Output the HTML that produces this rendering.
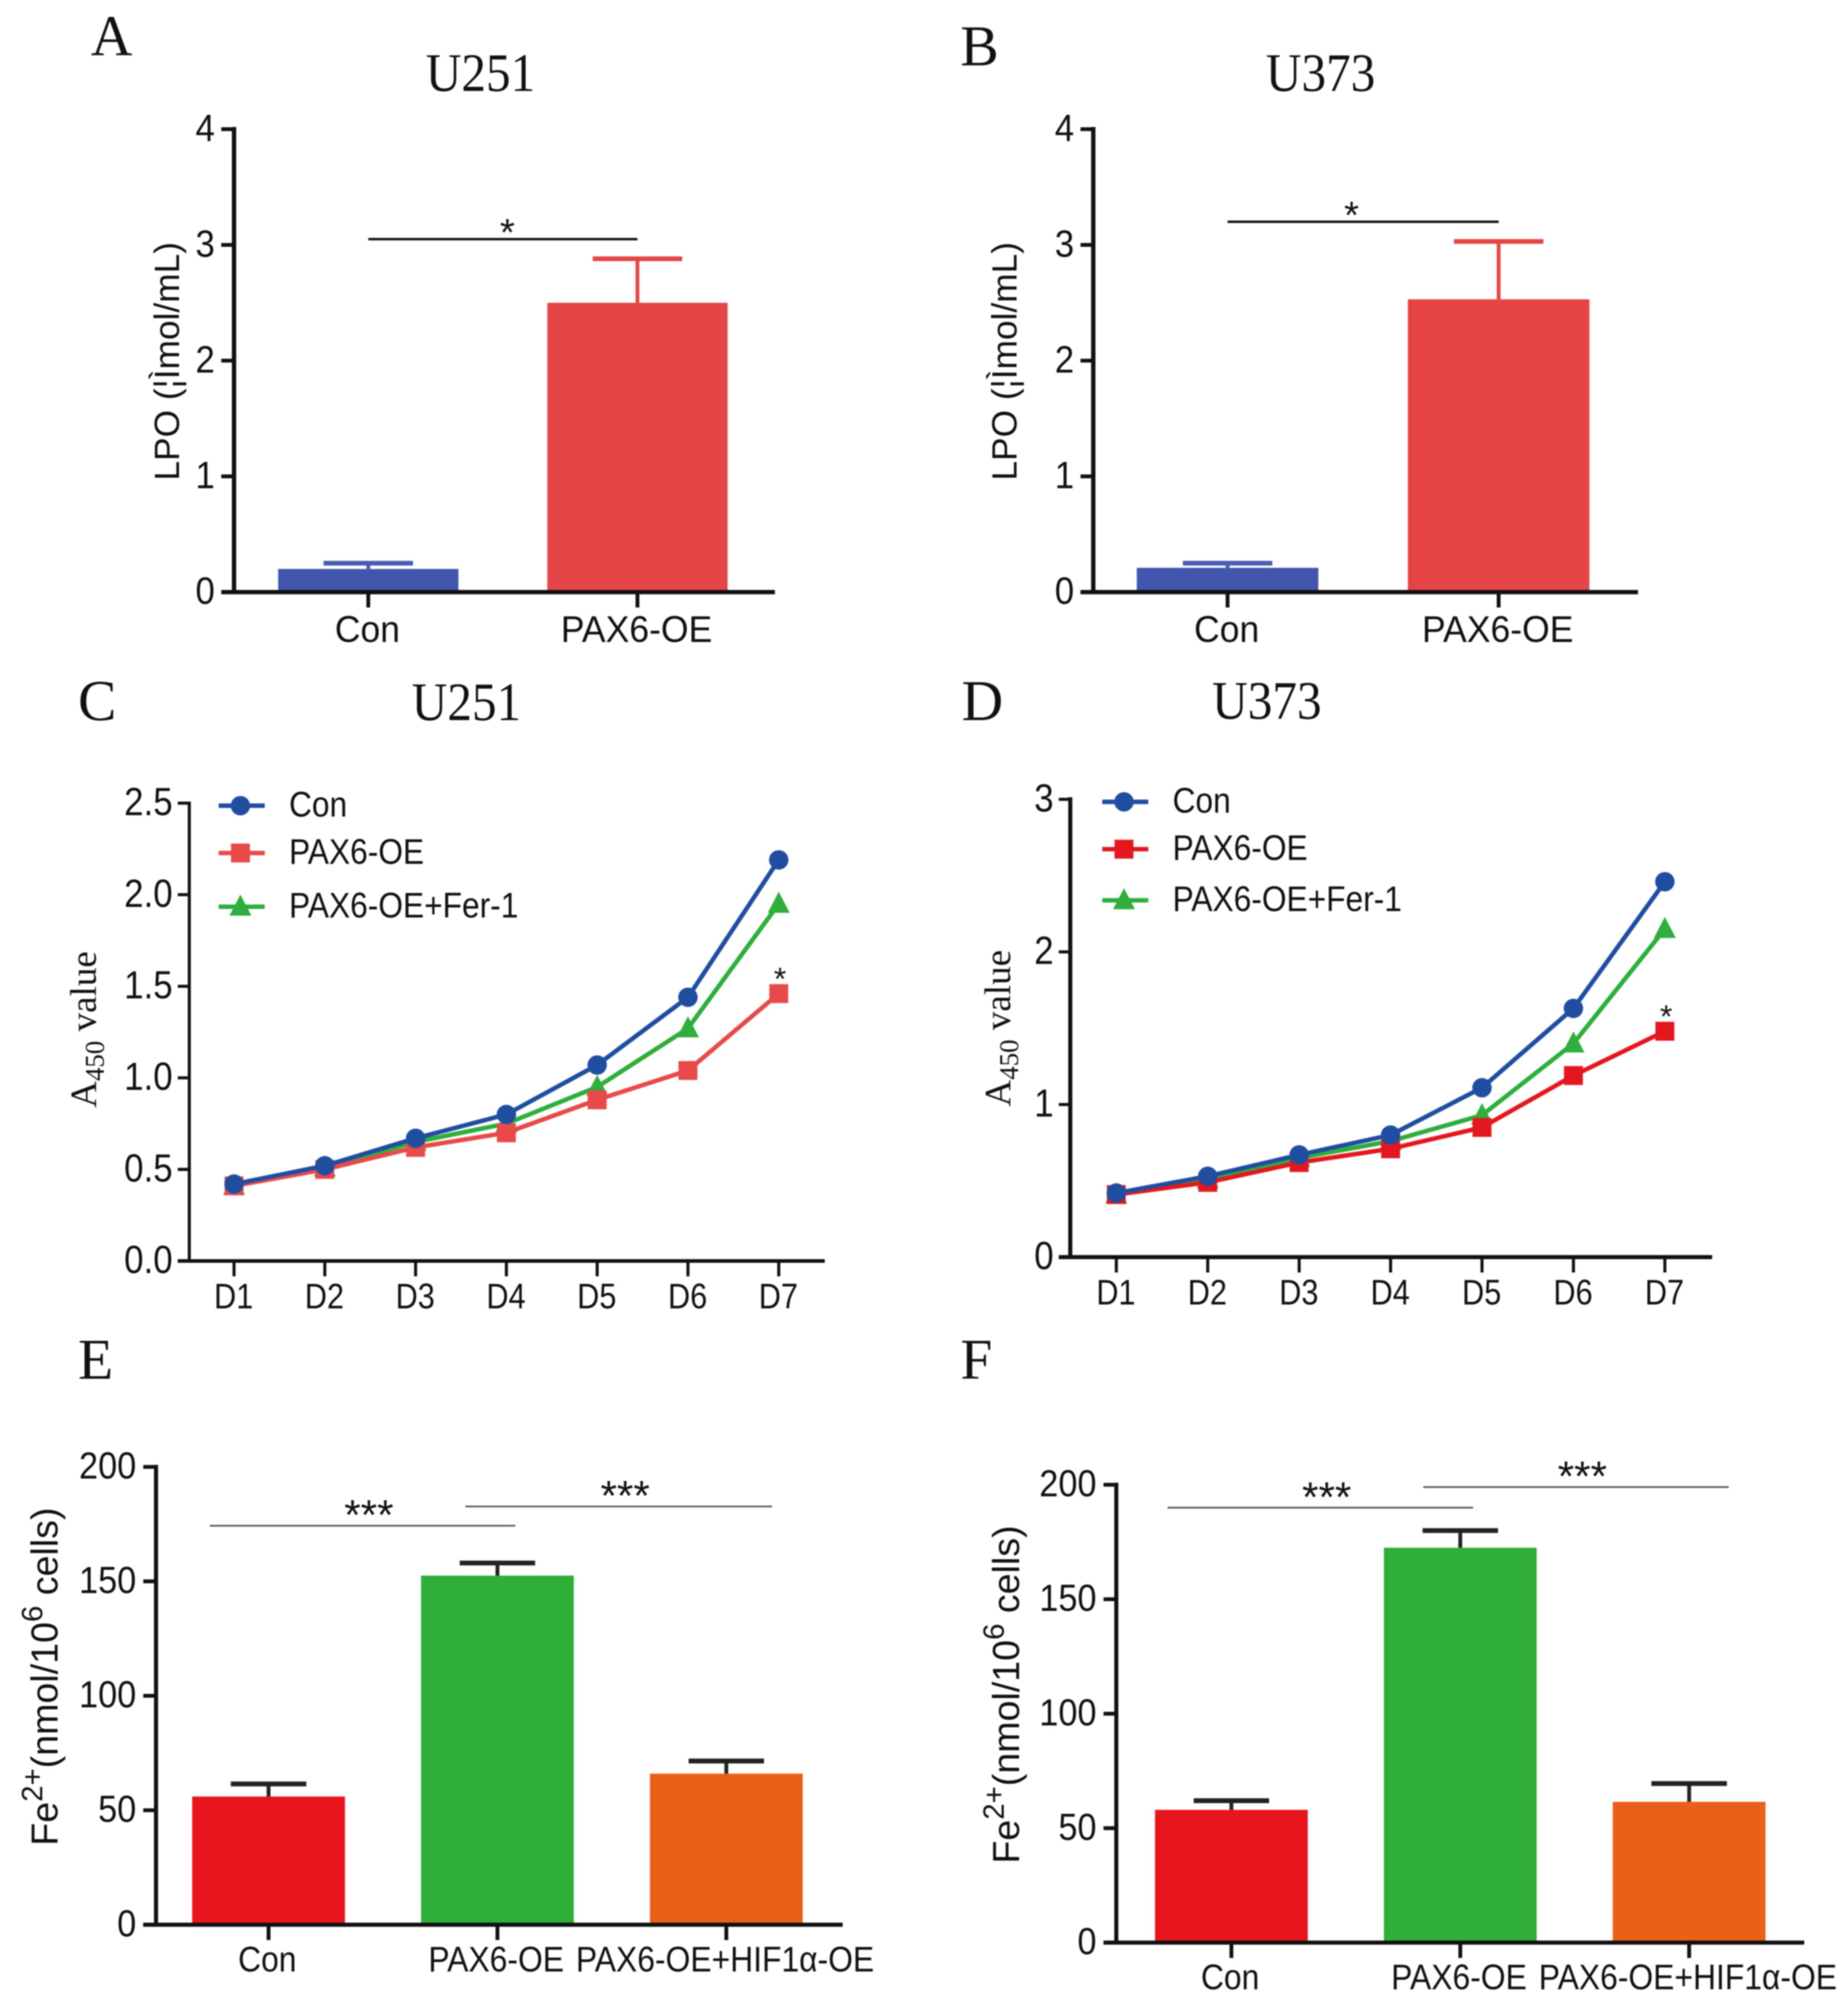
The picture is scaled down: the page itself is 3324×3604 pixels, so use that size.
<!DOCTYPE html>
<html>
<head>
<meta charset="utf-8">
<title>LPO, proliferation and Fe2+ panels</title>
<style>
html,body{margin:0;padding:0;background:#fff;}
svg{display:block;filter:blur(1px);}
text{fill:#111;font-family:"Liberation Sans",Arial,sans-serif;}
.serif{font-family:"Liberation Serif","Times New Roman",serif;}
</style>
</head>
<body>
<svg id="figure" xmlns="http://www.w3.org/2000/svg" width="3324" height="3604" viewBox="0 0 1445.2 1567">
  <rect width="1445.2" height="1567" fill="#fff"/>
  <text class="serif" x="71" y="43" font-size="45">A</text>
  <text class="serif" x="751" y="51" font-size="45">B</text>
  <text class="serif" x="61" y="563" font-size="45">C</text>
  <text class="serif" x="752" y="563" font-size="45">D</text>
  <text class="serif" x="61" y="1078" font-size="45">E</text>
  <text class="serif" x="751" y="1078" font-size="45">F</text>

  <text class="serif" transform="translate(333,71) scale(1,1.1)" font-size="38.5">U251</text>
  <text class="serif" transform="translate(990,71) scale(1,1.1)" font-size="38.5">U373</text>
  <text class="serif" transform="translate(322,563) scale(1,1.1)" font-size="38.5">U251</text>
  <text class="serif" transform="translate(948,562) scale(1,1.1)" font-size="38.5">U373</text>

  <text transform="translate(140,282.5) rotate(-90)" text-anchor="middle" font-size="27.6">LPO (¦Ìmol/mL)</text>
  <text transform="translate(795,282.5) rotate(-90)" text-anchor="middle" font-size="27.6">LPO (¦Ìmol/mL)</text>
  <text class="serif" transform="translate(75,805) rotate(-90)" text-anchor="middle" font-size="29">A<tspan font-size="21" dy="6">450</tspan><tspan dy="-6"> value</tspan></text>
  <text class="serif" transform="translate(790,804) rotate(-90)" text-anchor="middle" font-size="29">A<tspan font-size="21" dy="6">450</tspan><tspan dy="-6"> value</tspan></text>
  <text transform="translate(45,1311) rotate(-90)" text-anchor="middle" font-size="29.4">Fe<tspan font-size="23" dy="-12">2+</tspan><tspan dy="12">(nmol/10</tspan><tspan font-size="23" dy="-12">6</tspan><tspan dy="12"> cells)</tspan></text>
  <text transform="translate(797,1325) rotate(-90)" text-anchor="middle" font-size="29.4">Fe<tspan font-size="23" dy="-12">2+</tspan><tspan dy="12">(nmol/10</tspan><tspan font-size="23" dy="-12">6</tspan><tspan dy="12"> cells)</tspan></text>
</svg>

<script>
// ---- Panel A data ----
const aCategories = ['Con', 'PAX6-OE'];
const aMeans = [0.2, 2.5];
const aErrorTops = [0.25, 2.88];
const aTicks = [0, 1, 2, 3, 4];
const aTickLabels = ['0', '1', '2', '3', '4'];
const aBrackets = [[0, 1, 3.05, '*']];

// ---- Panel B data ----
const bCategories = ['Con', 'PAX6-OE'];
const bMeans = [0.21, 2.53];
const bErrorTops = [0.25, 3.03];
const bTicks = [0, 1, 2, 3, 4];
const bTickLabels = ['0', '1', '2', '3', '4'];
const bBrackets = [[0, 1, 3.2, '*']];

// ---- Panel C data ----
const cDays = ['D1', 'D2', 'D3', 'D4', 'D5', 'D6', 'D7'];
const cCon = [0.42, 0.52, 0.67, 0.80, 1.07, 1.44, 2.19];
const cPax = [0.41, 0.50, 0.62, 0.70, 0.88, 1.04, 1.46];
const cFer = [0.41, 0.51, 0.65, 0.75, 0.95, 1.27, 1.95];
const cTicks = [0, 0.5, 1, 1.5, 2, 2.5];
const cTickLabels = ['0.0', '0.5', '1.0', '1.5', '2.0', '2.5'];

// ---- Panel D data ----
const dDays = ['D1', 'D2', 'D3', 'D4', 'D5', 'D6', 'D7'];
const dCon = [0.42, 0.53, 0.67, 0.80, 1.11, 1.63, 2.46];
const dPax = [0.41, 0.49, 0.62, 0.71, 0.85, 1.19, 1.48];
const dFer = [0.41, 0.51, 0.65, 0.76, 0.93, 1.40, 2.15];
const dTicks = [0, 1, 2, 3];
const dTickLabels = ['0', '1', '2', '3'];

// ---- Panel E data ----
const eCategories = ['Con', 'PAX6-OE', 'PAX6-OE+HIF1α-OE'];
const eMeans = [56, 152.5, 66];
const eErrorTops = [61.5, 158, 71.5];
const eTicks = [0, 50, 100, 150, 200];
const eTickLabels = ['0', '50', '100', '150', '200'];
const eBrackets = [[-0.257, 1.078, 174.3, '***'], [0.86, 2.2, 182.7, '***']];

// ---- Panel F data ----
const fCategories = ['Con', 'PAX6-OE', 'PAX6-OE+HIF1α-OE'];
const fMeans = [58, 172.5, 61.5];
const fErrorTops = [62, 180, 69.5];
const fTicks = [0, 50, 100, 150, 200];
const fTickLabels = ['0', '50', '100', '150', '200'];
const fBrackets = [[-0.279, 1.056, 190, '***'], [0.838, 2.173, 199, '***']];

const seriesNames = ['Con', 'PAX6-OE', 'PAX6-OE+Fer-1'];

const SVG_NS = 'http://www.w3.org/2000/svg';
const root = document.getElementById('figure');

function make(tag, attrs, parent) {
  const el = document.createElementNS(SVG_NS, tag);
  for (const k in attrs) el.setAttribute(k, attrs[k]);
  parent.appendChild(el);
  return el;
}
function line(parent, x1, y1, x2, y2, stroke, w) {
  return make('line', {x1: x1, y1: y1, x2: x2, y2: y2, stroke: stroke, 'stroke-width': w}, parent);
}
function label(parent, x, y, str, size, anchor, stretch) {
  const el = make('text', {transform: 'translate(' + x + ',' + y + ') scale(1,' + stretch + ')', 'text-anchor': anchor, 'font-size': size}, parent);
  el.textContent = str;
  return el;
}

function drawAxes(g, L, ticks, tickLabels, cats, yOf, xOf) {
  const yAxis = line(g, L.axisX, yOf(ticks[ticks.length - 1]) - L.axisW / 2, L.axisX, L.y0, '#111', L.axisW);
  
  
  const xAxis = line(g, L.axisX - L.tickLen, L.y0, L.xEnd, L.y0, '#111', L.xAxisW);
  
  
  ticks.forEach(function (t, i) {
    const tk = line(g, L.axisX - L.tickLen, yOf(t), L.axisX, yOf(t), '#111', L.tickW);
    
    
    const tl = label(g, L.axisX - L.tickLen - L.tickGap, yOf(t) + L.tickFont * 0.31 * L.tickStretch, tickLabels[i], L.tickFont, 'end', L.tickStretch);
    
    
  });
  cats.forEach(function (c, i) {
    const tk = line(g, xOf(i), L.y0, xOf(i), L.y0 + 12, '#111', L.tickW);
    
    
    const tl = label(g, xOf(i) + L.labelDx, L.y0 + L.labelDy, c, L.labelFont, 'middle', L.labelStretch);
    
    
  });
}

function drawBarPanel(name, L, cats, means, tops, ticks, tickLabels, brackets) {
  const g = make('g', {}, root);
  
  
  const yOf = function (v) { return L.y0 - (v - ticks[0]) / (ticks[ticks.length - 1] - ticks[0]) * (L.y0 - L.yTop); };
  const xOf = function (i) { return L.x0 + i * L.step; };

  means.forEach(function (m, i) {
    const bar = make('rect', {x: xOf(i) - L.barW / 2, y: yOf(m), width: L.barW, height: L.y0 - yOf(m), fill: L.colors[i]}, g);
    
    
    const ec = L.errColors[i];
    const stem = line(g, xOf(i), yOf(tops[i]), xOf(i), yOf(m), ec, L.stemW);
    
    
    const cap = line(g, xOf(i) - L.capHalf, yOf(tops[i]), xOf(i) + L.capHalf, yOf(tops[i]), ec, L.capW);
    
    
  });

  brackets.forEach(function (b) {
    const y = yOf(b[2]);
    const br = line(g, xOf(b[0]), y, xOf(b[1]), y, L.bracketColor, L.bracketW);
    
    
    const st = label(g, (xOf(b[0]) + xOf(b[1])) / 2 + L.starDx, y + L.starDy, b[3], L.starFont, 'middle', 1);
    
    
  });

  drawAxes(g, L, ticks, tickLabels, cats, yOf, xOf);
}

function marker(g, kind, x, y, color) {
  if (kind === 'circle') {
    return make('circle', {cx: x, cy: y, r: 7.6, fill: color}, g);
  }
  if (kind === 'square') {
    return make('rect', {x: x - 7.4, y: y - 7.4, width: 14.8, height: 14.8, fill: color}, g);
  }
  return make('path', {d: 'M' + x + ' ' + (y - 9.5) + 'L' + (x + 8.6) + ' ' + (y + 7) + 'L' + (x - 8.6) + ' ' + (y + 7) + 'Z', fill: color}, g);
}

function drawLinePanel(name, L, days, series, ticks, tickLabels) {
  const g = make('g', {}, root);
  
  
  const yOf = function (v) { return L.y0 - (v - ticks[0]) / (ticks[ticks.length - 1] - ticks[0]) * (L.y0 - L.yTop); };
  const xOf = function (i) { return L.x0 + i * L.step; };
  drawAxes(g, L, ticks, tickLabels, days, yOf, xOf);

  const kinds = ['circle', 'square', 'triangle'];
  const order = [2, 1, 0];
  order.forEach(function (s) {
    const pts = series[s].map(function (v, i) { return xOf(i) + ',' + yOf(v); }).join(' ');
    const pl = make('polyline', {points: pts, fill: 'none', stroke: L.colors[s], 'stroke-width': 3.5, 'stroke-linejoin': 'round'}, g);
    
    
    series[s].forEach(function (v, i) {
      const m = marker(g, kinds[s], xOf(i), yOf(v), L.colors[s]);
      
      
    });
  });

  const last = series[1].length - 1;
  const st = label(g, xOf(last) + 1, yOf(series[1][last]) - 3, '*', 25, 'middle', 1);
  
  

  seriesNames.forEach(function (nm, s) {
    const ly = L.legendY[s];
    const ll = line(g, L.legendX, ly, L.legendX + 36, ly, L.colors[s], 3.5);
    
    
    const lm = marker(g, kinds[s], L.legendX + 17, ly, L.colors[s]);
    
    
    const lt = label(g, L.legendX + 55, ly + 8.5, nm, 24.8, 'start', 1.12);
    
    
  });
}

const barStyleTop = {
  yTop: 101, y0: 463, step: 210.5, barW: 141, capHalf: 35, axisW: 3.4, xAxisW: 3.4, tickW: 3, tickLen: 10,
  tickGap: 5, tickFont: 27.2, tickStretch: 1.1, labelFont: 27.8, labelStretch: 1.05, labelDy: 39, labelDx: -0.7,
  stemW: 3, capW: 3.7, bracketColor: '#111', bracketW: 1.9, starFont: 30, starDy: 5,
  colors: ['#4356ad', '#e64545'], errColors: ['#4a5db0', '#e64545']
};
const barStyleBottom = {
  step: 179, barW: 119.5, capHalf: 29.5, axisW: 3.2, xAxisW: 3.2, tickW: 3, tickLen: 10,
  tickGap: 5.5, tickFont: 26.8, tickStretch: 1.1, labelFont: 24.9, labelStretch: 1.12, labelDy: 36.5, labelDx: -1,
  stemW: 3, capW: 3.8, bracketColor: '#555', bracketW: 1.3, starFont: 33, starDy: 3, starDx: 5,
  colors: ['#e8161c', '#2fae38', '#ea6018'], errColors: ['#222', '#222', '#222']
};
const lineStyle = {
  axisW: 2.4, xAxisW: 2.8, tickW: 2.4, tickLen: 9, tickGap: 4, tickFont: 27.3, tickStretch: 1.12,
  labelFont: 24, labelStretch: 1.16, labelDy: 37, labelDx: -0.3
};

drawBarPanel('panel-a-lpo-u251', Object.assign({}, barStyleTop, {axisX: 183, x0: 288, xEnd: 606, starDx: 3.5}),
  aCategories, aMeans, aErrorTops, aTicks, aTickLabels, aBrackets);
drawBarPanel('panel-b-lpo-u373', Object.assign({}, barStyleTop, {axisX: 855, x0: 960, xEnd: 1281, step: 212, barW: 142, starDx: -9}),
  bCategories, bMeans, bErrorTops, bTicks, bTickLabels, bBrackets);
drawLinePanel('panel-c-a450-u251', Object.assign({}, lineStyle, {
  axisX: 148, yTop: 628, y0: 986, x0: 183, step: 71, xEnd: 645, legendX: 171, legendY: [630, 667, 709],
  colors: ['#1f4ea1', '#e84a4a', '#2eae3c']
}), cDays, [cCon, cPax, cFer], cTicks, cTickLabels);
drawLinePanel('panel-d-a450-u373', Object.assign({}, lineStyle, {
  axisX: 837, axisW: 3.2, xAxisW: 3.2, yTop: 625, y0: 983, x0: 873, step: 71.5, xEnd: 1339, legendX: 862, legendY: [627, 664, 704],
  colors: ['#1f4ea1', '#e3181f', '#2eae3c']
}), dDays, [dCon, dPax, dFer], dTicks, dTickLabels);
drawBarPanel('panel-e-fe-u251', Object.assign({}, barStyleBottom, {axisX: 122, yTop: 1147, y0: 1505, x0: 210, xEnd: 659}),
  eCategories, eMeans, eErrorTops, eTicks, eTickLabels, eBrackets);
drawBarPanel('panel-f-fe-u373', Object.assign({}, barStyleBottom, {axisX: 873, yTop: 1161, y0: 1519, x0: 963, xEnd: 1411}),
  fCategories, fMeans, fErrorTops, fTicks, fTickLabels, fBrackets);
</script>
</body>
</html>
